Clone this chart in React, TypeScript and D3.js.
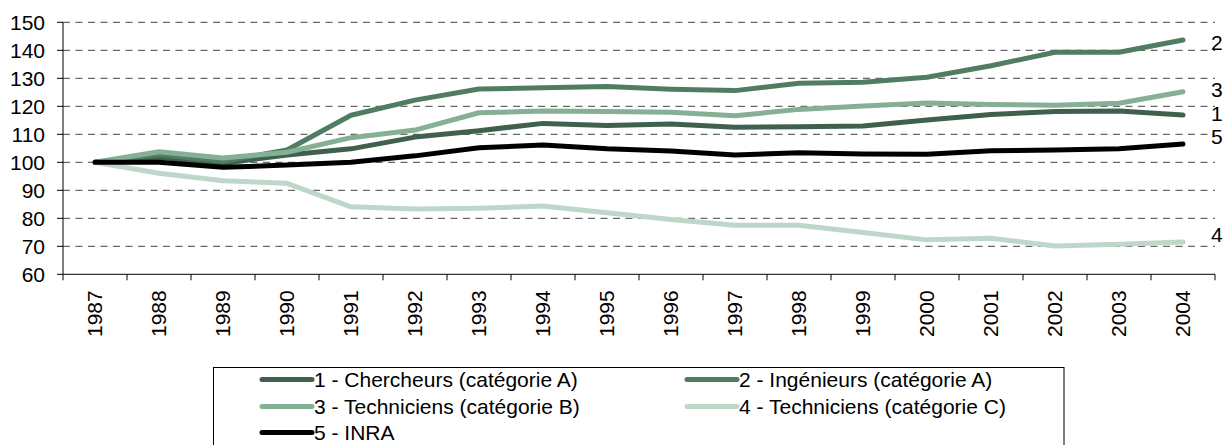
import React from "react";
import * as d3 from "d3";

const years = ["1987","1988","1989","1990","1991","1992","1993","1994","1995","1996","1997","1998","1999","2000","2001","2002","2003","2004"];
const chercheurs = [100, 101.8, 99.6, 102.6, 104.8, 109, 111.3, 113.9, 113.1, 113.7, 112.5, 112.7, 113, 115.1, 117.1, 118.1, 118.3, 116.9];
const ingenieurs = [100, 102.8, 100.4, 104.4, 116.8, 122.2, 126.2, 126.6, 127.1, 126.1, 125.6, 128.2, 128.6, 130.4, 134.5, 139.3, 139.3, 143.7];
const techB = [100, 103.8, 101.5, 103.6, 108.8, 111.5, 117.7, 118.3, 118.1, 117.9, 116.6, 118.9, 120.1, 121.2, 120.6, 120.4, 121.1, 125.2];
const techC = [100, 96.1, 93.4, 92.5, 84.1, 83.3, 83.6, 84.4, 82, 79.6, 77.5, 77.5, 74.9, 72.3, 72.9, 70.1, 70.7, 71.5];
const inra = [100, 100, 98.2, 99, 100, 102.3, 105.2, 106.2, 104.8, 104, 102.6, 103.4, 103, 102.9, 104.1, 104.4, 104.8, 106.5];
const yTicks = [60, 70, 80, 90, 100, 110, 120, 130, 140, 150];

const seriesNames = ["1 - Chercheurs (catégorie A)", "2 - Ingénieurs (catégorie A)", "3 - Techniciens (catégorie B)", "4 - Techniciens (catégorie C)", "5 - INRA"];
const seriesShort = ["1", "2", "3", "4", "5"];
const seriesValues = [chercheurs, ingenieurs, techB, techC, inra];
const seriesColors = ["#3e604d", "#507d62", "#86b096", "#bed7c8", "#000000"];
const endLabelValues = [117.2, 142.6, 125.8, 74, 109];

const FONT = "Arial, 'Liberation Sans', sans-serif";

export default function App() {
  const W = 1225, H = 445;
  const left = 63, right = 1215, top = 22.3, bottom = 274.3;
  const x = d3.scaleBand<string>().domain(years).range([left, right]).paddingInner(0).paddingOuter(0);
  const y = d3.scaleLinear().domain([60, 150]).range([bottom, top]);
  const cx = (yr: string) => (x(yr) as number) + x.bandwidth() / 2;
  const line = d3.line<number>().x((_, i) => cx(years[i])).y((v) => y(v)).curve(d3.curveLinear);

  const legendItems = [
    { i: 0, col: 0, row: 0 },
    { i: 1, col: 1, row: 0 },
    { i: 2, col: 0, row: 1 },
    { i: 3, col: 1, row: 1 },
    { i: 4, col: 0, row: 2 },
  ];
  const legX = [262, 687];
  const legY = [379.5, 406.5, 432.5];

  return (
    <svg width={W} height={H} style={{ position: "absolute", left: 0, top: 0, background: "#fff" }} fontFamily={FONT}>
      <rect x={0} y={0} width={W} height={H} fill="#fff" />
      {yTicks.filter((t) => t > 60).map((t) => (
        <line key={"g" + t} x1={left} x2={right} y1={y(t)} y2={y(t)} stroke="#444" strokeWidth={1} strokeDasharray="7,5.5" />
      ))}
      <line x1={left} x2={left} y1={top} y2={bottom} stroke="#000" strokeWidth={1} />
      {yTicks.map((t) => (
        <g key={"yt" + t}>
          <line x1={left - 6} x2={left} y1={y(t)} y2={y(t)} stroke="#000" strokeWidth={1} />
          <text x={45} y={y(t)} dy="0.35em" textAnchor="end" fontSize={21} fill="#000">{t}</text>
        </g>
      ))}
      <line x1={left} x2={right} y1={bottom} y2={bottom} stroke="#000" strokeWidth={1} />
      {years.concat(["end"]).map((yr, i) => {
        const xx = i < years.length ? (x(yr) as number) : right;
        return <line key={"xt" + i} x1={xx} x2={xx} y1={bottom} y2={bottom + 6} stroke="#000" strokeWidth={1} />;
      })}
      {years.map((yr) => (
        <text key={"xl" + yr} transform={`translate(${cx(yr)},${bottom + 16}) rotate(-90)`} textAnchor="end" dy="0.35em" fontSize={21} fill="#000">{yr}</text>
      ))}
      {seriesValues.map((vals, i) => (
        <path key={"s" + i} d={line(vals) as string} fill="none" stroke={seriesColors[i]} strokeWidth={5} strokeLinejoin="round" strokeLinecap="round" />
      ))}
      {seriesShort.map((s, i) => (
        <text key={"el" + i} x={1211} y={y(endLabelValues[i])} dy="0.35em" fontSize={21} fill="#000">{s}</text>
      ))}
      <rect x={213.5} y={367.5} width={850.5} height={100} fill="#fff" stroke="#000" strokeWidth={1} />
      {legendItems.map((it) => (
        <g key={"lg" + it.i}>
          <line x1={legX[it.col]} x2={legX[it.col] + 50} y1={legY[it.row]} y2={legY[it.row]} stroke={seriesColors[it.i]} strokeWidth={5} strokeLinecap="round" />
          <text x={legX[it.col] + 52} y={legY[it.row]} dy="0.35em" fontSize={21} fill="#000">{seriesNames[it.i]}</text>
        </g>
      ))}
    </svg>
  );
}
